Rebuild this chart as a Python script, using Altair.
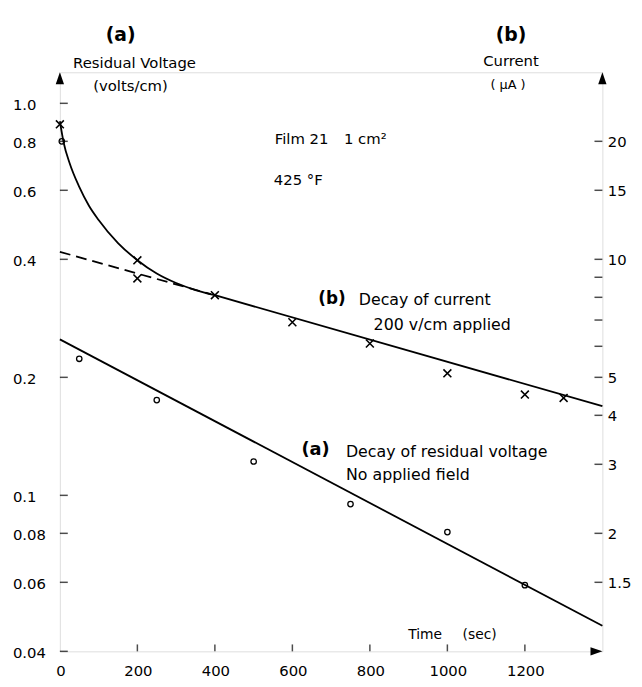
import altair as alt
import pandas as pd

# ---------------- data ----------------
# (b) current, microamps, "x" markers
cur_t = [0, 200, 200, 400, 600, 800, 1000, 1200, 1300]
cur_v = [22.1, 9.94, 8.94, 8.1, 6.91, 6.10, 5.12, 4.52, 4.43]

# (b) smooth initial decay curve (solid)
curve_t = [0, 10, 25, 50, 75, 100, 150, 200, 250, 300, 350, 400]
curve_v = [22.5, 19.8, 17.6, 15.3, 13.7, 12.6, 11.0, 9.95, 9.2, 8.7, 8.35, 8.1]

# (b) straight fitted line (solid) and its back-extrapolation (dashed)
fit_t = [400, 1400]
fit_v = [8.1, 4.22]
dash_t = [0, 390]
dash_v = [10.45, 8.15]

# (a) residual voltage, volts/cm, "o" markers
vol_t = [5, 50, 250, 500, 750, 1000, 1200]
vol_v = [0.80, 0.223, 0.175, 0.122, 0.095, 0.0806, 0.059]

# (a) fitted straight line
vline_t = [0, 1400]
vline_v = [0.25, 0.0465]

# axes
x_ticks = [0, 200, 400, 600, 800, 1000, 1200]
x_labels = ["0", "200", "400", "600", "800", "1000", "1200"]
left_ticks = [0.04, 0.06, 0.08, 0.1, 0.2, 0.4, 0.6, 0.8, 1.0]
left_labels = ["0.04", "0.06", "0.08", "0.1", "0.2", "0.4", "0.6", "0.8", "1.0"]
right_label_vals = [1.5, 2, 3, 4, 5, 10, 15, 20]
right_labels = ["1.5", "2", "3", "4", "5", "10", "15", "20"]
right_ticks = [1.5, 2, 3, 4, 5, 6, 7, 8, 9, 10, 15, 20]
x_dom = [0, 1400]
v_dom = [0.04, 1.2]
c_dom = [1.0, 30.0]

# ---------------- layout ----------------
W, H = 549, 586
OX, OY = 60.5, 69.0          # page position of the plot origin
FONT = "DejaVu Sans"
LW = 1.8

xs = alt.Scale(domain=x_dom, nice=False, zero=False)
vs = alt.Scale(type="log", domain=v_dom, nice=False)
cs = alt.Scale(type="log", domain=c_dom, nice=False)


def XQ(f):
    return alt.X(f, type="quantitative", scale=xs, axis=None)


def VQ(f):
    return alt.Y(f, type="quantitative", scale=vs, axis=None)


def CQ(f):
    return alt.Y(f, type="quantitative", scale=cs, axis=None)


df_cur = pd.DataFrame({"t": cur_t, "c": cur_v})
df_curve = pd.DataFrame({"t": curve_t, "c": curve_v})
df_fit = pd.DataFrame({"t": fit_t, "c": fit_v})
df_dash = pd.DataFrame({"t": dash_t, "c": dash_v})
df_vol = pd.DataFrame({"t": vol_t, "v": vol_v})
df_vline = pd.DataFrame({"t": vline_t, "v": vline_v})

axis_common = dict(tickSize=0, labels=False, domainWidth=LW, domainColor="black",
                   grid=False, title=None)

# ---------- voltage group (left axis) ----------
vline = alt.Chart(df_vline).mark_line(color="black", strokeWidth=LW).encode(
    x=alt.X("t:Q", scale=xs, title=None, axis=alt.Axis(values=x_ticks, **axis_common)),
    y=alt.Y("v:Q", scale=vs, title=None,
            axis=alt.Axis(orient="left", values=left_ticks, **axis_common)),
)

vpts = alt.Chart(df_vol).mark_point(shape="circle", filled=False, color="black",
                                    size=30, strokeWidth=1.3, opacity=1).encode(
    x=XQ("t"), y=VQ("v"))

lt = alt.Chart(pd.DataFrame({"v": left_ticks})).mark_tick(
    color="black", size=8, thickness=1.5, orient="horizontal").encode(
    x=alt.value(4), y=VQ("v"))

ltxt = alt.Chart(pd.DataFrame({"v": left_ticks, "lab": left_labels})).mark_text(
    font=FONT, fontSize=15, align="left", baseline="middle", dy=2, color="black").encode(
    x=alt.value(13 - OX), y=VQ("v"), text="lab:N")

xt = alt.Chart(pd.DataFrame({"t": x_ticks[1:]})).mark_tick(
    color="black", size=7, thickness=1.5, orient="vertical").encode(
    x=XQ("t"), y=alt.value(H - 3.5))

xtxt = alt.Chart(pd.DataFrame({"t": x_ticks, "lab": x_labels})).mark_text(
    font=FONT, fontSize=15, align="center", baseline="middle", dx=1, color="black").encode(
    x=XQ("t"), y=alt.value(H + 20), text="lab:N")

arrow_up = "M 0 0 L -0.35 1 L 0.35 1 Z"
arrow_right = "M 0 0 L -1 -0.35 L -1 0.35 Z"

left_arrow = alt.Chart(pd.DataFrame({"t": [x_dom[0]], "v": [v_dom[1]]})).mark_point(
    shape=arrow_up, filled=True, color="black", size=576, opacity=1).encode(
    x=XQ("t"), y=VQ("v"))

bottom_arrow = alt.Chart(pd.DataFrame({"t": [x_dom[1]], "v": [v_dom[0]]})).mark_point(
    shape=arrow_right, filled=True, color="black", size=576, opacity=1).encode(
    x=XQ("t"), y=VQ("v"))

vol_group = alt.layer(vline, vpts, lt, ltxt, xt, xtxt, left_arrow, bottom_arrow)

# ---------- current group (right axis) ----------
fit = alt.Chart(df_fit).mark_line(color="black", strokeWidth=LW).encode(
    x=XQ("t"),
    y=alt.Y("c:Q", scale=cs, title=None,
            axis=alt.Axis(orient="right", values=right_label_vals, **axis_common)),
)

curve = alt.Chart(df_curve).mark_line(color="black", strokeWidth=LW,
                                      interpolate="monotone").encode(
    x=XQ("t"), y=CQ("c"))

dash = alt.Chart(df_dash).mark_line(color="black", strokeWidth=LW,
                                    strokeDash=[11, 6]).encode(
    x=XQ("t"), y=CQ("c"))

xshape = "M -1 -1 L 1 1 M -1 1 L 1 -1"
cpts = alt.Chart(df_cur).mark_point(shape=xshape, filled=False, color="black",
                                    size=64, strokeWidth=1.6, opacity=1).encode(
    x=XQ("t"), y=CQ("c"))

rt = alt.Chart(pd.DataFrame({"c": right_ticks})).mark_tick(
    color="black", size=8, thickness=1.5, orient="horizontal").encode(
    x=alt.value(W - 4), y=CQ("c"))

rtxt = alt.Chart(pd.DataFrame({"c": right_label_vals, "lab": right_labels})).mark_text(
    font=FONT, fontSize=15, align="left", baseline="middle", dy=1, color="black").encode(
    x=alt.value(615 - OX), y=CQ("c"), text="lab:N")

right_arrow = alt.Chart(pd.DataFrame({"t": [x_dom[1]], "c": [c_dom[1]]})).mark_point(
    shape=arrow_up, filled=True, color="black", size=576, opacity=1).encode(
    x=XQ("t"), y=CQ("c"))

cur_group = alt.layer(fit, curve, dash, cpts, rt, rtxt, right_arrow)

# ---------- annotations ----------
one = pd.DataFrame({"k": [0]})


def label(txt, px, py, size=15, bold=False, align="left"):
    return alt.Chart(one).mark_text(
        text=txt, font=FONT, fontSize=size, fontWeight="bold" if bold else "normal",
        align=align, baseline="middle", color="black").encode(
        x=alt.value(px - OX), y=alt.value(py - OY))


texts = [
    label("(a)", 122, 31, size=19, bold=True, align="center"),
    label("Residual Voltage", 136, 60, size=15, align="center"),
    label("(volts/cm)", 132, 83, size=15, align="center"),
    label("(b)", 517, 31, size=19, bold=True, align="center"),
    label("Current", 517, 58, size=15, align="center"),
    label("( μA )", 514, 82, size=13, align="center"),
    label("Film 21", 278, 137, size=15),
    label("1 cm²", 348, 137, size=15),
    label("425 °F", 277, 178, size=15),
    label("(b)", 322, 298, size=17, bold=True),
    label("Decay of current", 363, 299, size=16),
    label("200 v/cm applied", 378, 325, size=16),
    label("(a)", 305, 451, size=18, bold=True),
    label("Decay of residual voltage", 350, 453, size=16),
    label("No applied field", 350, 477, size=16),
    label("Time", 413, 638, size=14),
    label("(sec)", 468, 638, size=14),
]

chart = alt.layer(vol_group, cur_group, *texts).resolve_scale(
    y="independent"
).properties(
    width=W, height=H,
    autosize=alt.AutoSizeParams(type="none"),
    padding={"left": 52.5, "top": 61, "right": 32, "bottom": 30},
).configure_view(stroke=None).configure(background="white")

chart.save("out.html", embed_options={"renderer": "svg", "actions": False})
